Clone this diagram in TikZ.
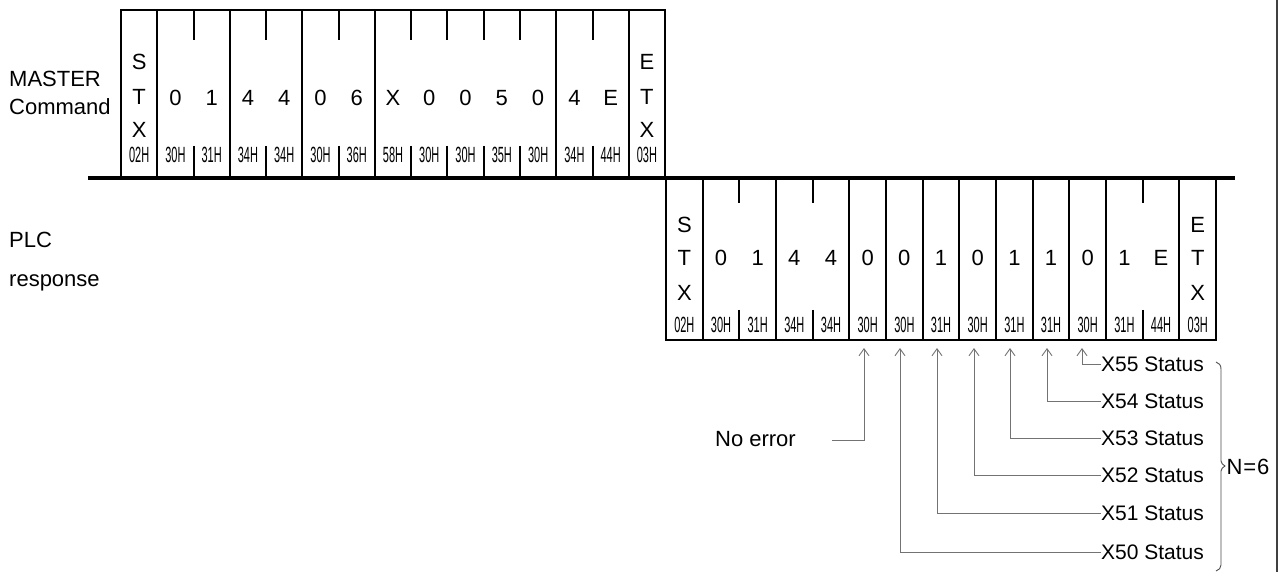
\documentclass[tikz,border=0pt]{standalone}
\usepackage{fontspec}
\setmainfont{Liberation Sans}
\usetikzlibrary{arrows.meta}
\begin{document}
\begin{tikzpicture}[x=1pt,y=-1pt,
  frame/.style={line width=2pt, draw=black},
  sep/.style={line width=3.5pt, draw=black},
  txt/.style={font=\fontsize{22}{26}\selectfont, inner sep=0pt},
  stxt/.style={font=\fontsize{21}{25}\selectfont, inner sep=0pt},
  hex/.style={font=\fontsize{22}{26}\selectfont, inner sep=0pt},
  arr/.style={draw=black!55, line width=1pt, -{Straight Barb[length=7pt,width=10pt,line width=0.9pt]}},
  bracestyle/.style={draw=black!70, line width=0.9pt}]
\useasboundingbox (0,0) rectangle (1286,572);
\def\mx{121}\def\mw{36.27}
\def\px{666}\def\pw{36.67}

% right border and separator
\draw[line width=1.5pt, black!75] (1277,0) -- (1277,572);
\draw[sep] (88,178) -- (1235,178);

% labels
\node[txt, anchor=base west] (master) at (9,87) {MASTER};
\node[txt, anchor=base west] (command) at (9,115) {Command};
\node[txt, anchor=base west] (plc) at (9,248) {PLC};
\node[txt, anchor=base west] (resp) at (9,287) {response};

% ---------- MASTER frame ----------
\draw[frame] (\mx,178) -- (\mx,10) -- (665,10) -- (665,178);
\foreach \i in {1,3,5,7,12,14}
  \draw[frame] ({\mx+\i*\mw},10) -- ({\mx+\i*\mw},178);
\foreach \i in {2,4,6,8,9,10,11,13}{
  \draw[frame] ({\mx+\i*\mw},10) -- ({\mx+\i*\mw},40);
  \draw[frame] ({\mx+\i*\mw},146) -- ({\mx+\i*\mw},178);
}
\node[txt] (ms) at ({\mx+0.5*\mw},62) {S};
\node[txt] (mt) at ({\mx+0.5*\mw},97) {T};
\node[txt] (mxx) at ({\mx+0.5*\mw},130) {X};
\node[txt] (me) at ({\mx+14.5*\mw},62) {E};
\node[txt] (met) at ({\mx+14.5*\mw},97) {T};
\node[txt] (mex) at ({\mx+14.5*\mw},130) {X};
\foreach \i/\c in {1/0,2/1,3/4,4/4,5/0,6/6,7/X,8/0,9/0,10/5,11/0,12/4,13/E}
  \node[txt] (m\i) at ({\mx+(\i+0.5)*\mw},98) {\c};
\foreach \i/\h in {0/02H,1/30H,2/31H,3/34H,4/34H,5/30H,6/36H,7/58H,8/30H,9/30H,10/35H,11/30H,12/34H,13/44H,14/03H}
  \node[hex] (mh\i) at ({\mx+(\i+0.5)*\mw},155) {\scalebox{0.5}[1]{\h}};

% ---------- PLC frame ----------
\draw[frame] (\px,178) -- (\px,340) -- (1216,340) -- (1216,178);
\foreach \i in {1,3,5,6,7,8,9,10,11,12,14}
  \draw[frame] ({\px+\i*\pw},178) -- ({\px+\i*\pw},340);
\foreach \i in {2,4,13}{
  \draw[frame] ({\px+\i*\pw},178) -- ({\px+\i*\pw},203);
  \draw[frame] ({\px+\i*\pw},310) -- ({\px+\i*\pw},340);
}
\node[txt] (ps) at ({\px+0.5*\pw},225) {S};
\node[txt] (pt) at ({\px+0.5*\pw},258) {T};
\node[txt] (pxx) at ({\px+0.5*\pw},293) {X};
\node[txt] (pe) at ({\px+14.5*\pw},225) {E};
\node[txt] (pet) at ({\px+14.5*\pw},258) {T};
\node[txt] (pex) at ({\px+14.5*\pw},293) {X};
\foreach \i/\c in {1/0,2/1,3/4,4/4,5/0,6/0,7/1,8/0,9/1,10/1,11/0,12/1,13/E}
  \node[txt] (p\i) at ({\px+(\i+0.5)*\pw},258) {\c};
\foreach \i/\h in {0/02H,1/30H,2/31H,3/34H,4/34H,5/30H,6/30H,7/31H,8/30H,9/31H,10/31H,11/30H,12/31H,13/44H,14/03H}
  \node[hex] (ph\i) at ({\px+(\i+0.5)*\pw},325) {\scalebox{0.5}[1]{\h}};

% ---------- arrows ----------
\coordinate (t0) at (864,348);
\coordinate (t1) at (900,348);
\coordinate (t2) at (937,348);
\coordinate (t3) at (974,348);
\coordinate (t4) at (1010,348);
\coordinate (t5) at (1047,348);
\coordinate (t6) at (1082,348);

\node[txt, anchor=east] (noerr) at (796,439) {No error};
\coordinate (ne) at (832,440);
\draw[arr] (ne) -| (t0);

\node[stxt, anchor=west] (x55) at (1101,364) {X55 Status};
\node[stxt, anchor=west] (x54) at (1101,401) {X54 Status};
\node[stxt, anchor=west] (x53) at (1101,438) {X53 Status};
\node[stxt, anchor=west] (x52) at (1101,475) {X52 Status};
\node[stxt, anchor=west] (x51) at (1101,513) {X51 Status};
\node[stxt, anchor=west] (x50) at (1101,552) {X50 Status};
\draw[arr] (x55.west) -| (t6);
\draw[arr] (x54.west) -| (t5);
\draw[arr] (x53.west) -| (t4);
\draw[arr] (x52.west) -| (t3);
\draw[arr] (x51.west) -| (t2);
\draw[arr] (x50.west) -| (t1);

% brace
\draw[bracestyle] (1216,362) .. controls (1219,363) and (1221,365) .. (1221,369)
  -- (1221,461) .. controls (1221,463) and (1223,465) .. (1225,466)
  .. controls (1223,467) and (1221,469) .. (1221,471)
  -- (1221,565) .. controls (1221,568) and (1219,570) .. (1216,571);
\node[txt] (n6) at (1248,467) {N\kern1pt=\kern1pt6};
\end{tikzpicture}
\end{document}
